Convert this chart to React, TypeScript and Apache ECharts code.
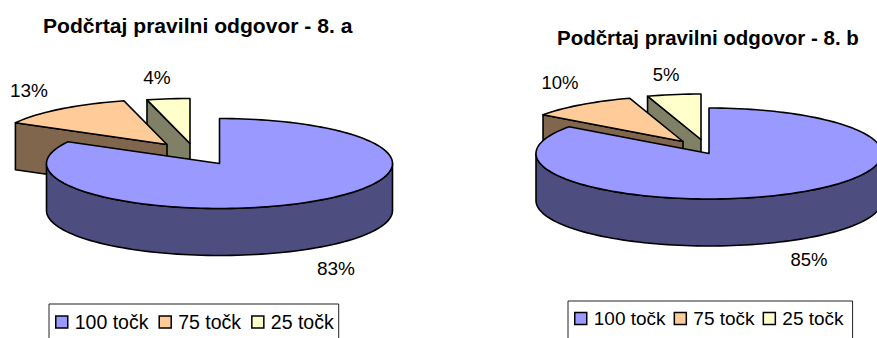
import React, { useEffect, useRef } from "react";
import * as echarts from "echarts";

const categories = ["100 točk", "75 točk", "25 točk"];
const valuesA = [83, 13, 4];
const valuesB = [85, 10, 5];
const titleA = "Podčrtaj pravilni odgovor - 8. a";
const titleB = "Podčrtaj pravilni odgovor - 8. b";

const topColors = ["#9999FF", "#FFCC99", "#FFFFCC"];
const sideColors = ["#4D4D80", "#80664D", "#808066"];
const FONT = '"Liberation Sans", Arial, sans-serif';

type PieLayout = {
  cx: number;
  cy: number;
  rx: number;
  ry: number;
  depth: number;
  explode: number[][];
  labels: number[][];
  labelSize: number;
};

const layoutA: PieLayout = {
  cx: 219.5,
  cy: 163.5,
  rx: 173,
  ry: 45,
  depth: 47,
  explode: [[0, 0], [-52.5, -19], [-29.5, -20]],
  labels: [[336, 268], [29, 90], [157, 77]],
  labelSize: 19,
};

const layoutB: PieLayout = {
  cx: 709,
  cy: 153.5,
  rx: 173,
  ry: 45.5,
  depth: 47,
  explode: [[0, 0], [-26, -12], [-8, -14]],
  labels: [[809, 259], [560, 82], [666, 74]],
  labelSize: 18.5,
};

function rimPoint(p: PieLayout, dx: number, dy: number, deg: number): number[] {
  const a = (deg * Math.PI) / 180;
  return [p.cx + dx + p.rx * Math.sin(a), p.cy + dy - p.ry * Math.cos(a)];
}

// Extruded wedge: visible cut faces, then the front rim wall, then the top face.
function wedge(values: number[], p: PieLayout, i: number, value: number) {
  const total = values.reduce((s, v) => s + v, 0);
  const before = values.slice(0, i).reduce((s, v) => s + v, 0);
  const a0 = (before / total) * 360;
  const a1 = ((before + value) / total) * 360;
  const [dx, dy] = p.explode[i];
  const apex = [p.cx + dx, p.cy + dy];
  const drop = (pt: number[]) => [pt[0], pt[1] + p.depth];
  const edge = { stroke: "#000", lineWidth: 1.6, lineJoin: "round" };
  const children: any[] = [];

  const cutFace = (deg: number) => {
    const rim = rimPoint(p, dx, dy, deg);
    children.push({
      type: "polygon",
      shape: { points: [apex, rim, drop(rim), drop(apex)] },
      style: { fill: sideColors[i], ...edge },
    });
  };
  if (Math.sin((a0 * Math.PI) / 180) < -1e-6) cutFace(a0);
  if (Math.sin((a1 * Math.PI) / 180) > 1e-6) cutFace(a1);

  const from = Math.max(a0, 90);
  const to = Math.min(a1, 270);
  if (to > from) {
    const upper: number[][] = [];
    for (let d = from; d <= to + 1e-6; d += 2) upper.push(rimPoint(p, dx, dy, d));
    children.push({
      type: "polygon",
      shape: { points: [...upper, ...upper.map(drop).reverse()] },
      style: { fill: sideColors[i], ...edge },
    });
  }

  const top: number[][] = [apex];
  for (let d = a0; d < a1; d += 2) top.push(rimPoint(p, dx, dy, d));
  top.push(rimPoint(p, dx, dy, a1));
  children.push({
    type: "polygon",
    shape: { points: top },
    style: { fill: topColors[i], ...edge },
  });

  children.push({
    type: "text",
    style: {
      text: `${value}%`,
      x: p.labels[i][0],
      y: p.labels[i][1],
      align: "center",
      verticalAlign: "middle",
      fill: "#000",
      font: `${p.labelSize}px ${FONT}`,
    },
  });
  return { type: "group", children };
}

// The largest slice paints last so that it sits over the pulled-out wedges.
function pieSeries(values: number[], p: PieLayout) {
  return values
    .map((v, i) => ({
      type: "custom",
      name: categories[i],
      coordinateSystem: "none",
      silent: true,
      itemStyle: { color: topColors[i] },
      data: [[v]],
      renderItem: (_: any, api: any) => wedge(values, p, i, api.value(0)),
    }))
    .reverse();
}

function legendBox(left: number, top: number, fontSize: number, itemGap: number, padRight: number) {
  return {
    left,
    top,
    orient: "horizontal",
    data: categories,
    icon: "rect",
    selectedMode: false,
    itemWidth: 12,
    itemHeight: 12,
    itemGap,
    padding: [8, padRight, 30, 6],
    borderColor: "#222",
    borderWidth: 1,
    itemStyle: { borderColor: "#000", borderWidth: 1.5 },
    textStyle: { color: "#000", fontFamily: FONT, fontSize, padding: [0, 0, 0, 2] },
  };
}

export default function App() {
  const ref = useRef<HTMLDivElement>(null);
  useEffect(() => {
    const chart = echarts.init(ref.current!, undefined, { renderer: "svg" });
    chart.setOption({
      animation: false,
      backgroundColor: "#fff",
      title: [
        {
          text: titleA,
          left: 43,
          top: 15,
          padding: 0,
          textStyle: { color: "#000", fontFamily: FONT, fontWeight: "bold", fontSize: 21.1 },
        },
        {
          text: titleB,
          left: 557,
          top: 27,
          padding: 0,
          textStyle: { color: "#000", fontFamily: FONT, fontWeight: "bold", fontSize: 20.5 },
        },
      ],
      legend: [legendBox(49, 304, 19.5, 10, 5), legendBox(568, 301, 19, 8, 9)],
      series: [...pieSeries(valuesA, layoutA), ...pieSeries(valuesB, layoutB)],
    });
    return () => chart.dispose();
  }, []);
  return <div ref={ref} style={{ position: "absolute", left: 0, top: 0, width: 877, height: 338 }} />;
}
